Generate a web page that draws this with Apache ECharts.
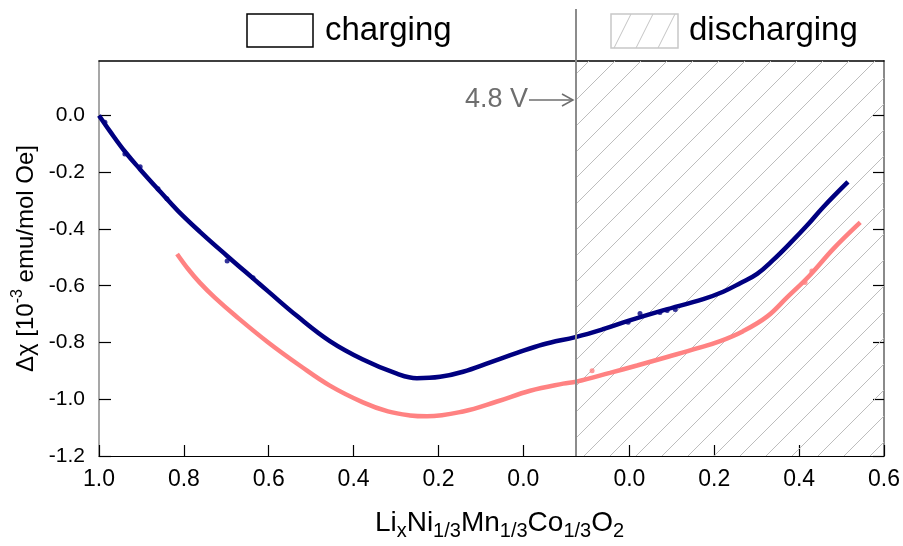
<!DOCTYPE html>
<html><head><meta charset="utf-8">
<script src="https://cdn.jsdelivr.net/npm/echarts@6/dist/echarts.min.js"></script>
<style>html,body{margin:0;padding:0;background:#fff}#c{width:903px;height:546px}</style>
</head><body><div id="c"></div>
<script>
// ---------------- data (x = Li content, y = delta chi in 1e-3 emu/mol Oe) ----------------
const navyChargeX = [1.000, 0.974, 0.939, 0.903, 0.856, 0.814, 0.762, 0.698, 0.637, 0.602, 0.533, 0.456, 0.378, 0.298, 0.251, 0.196, 0.142, 0.078, 0.015, -0.046, -0.125];
const navyChargeY = [0.000, -0.056, -0.127, -0.190, -0.268, -0.336, -0.410, -0.495, -0.574, -0.619, -0.707, -0.795, -0.860, -0.910, -0.926, -0.921, -0.903, -0.870, -0.837, -0.807, -0.780];
const navyDischargeX = [-0.125, -0.062, -0.003, 0.079, 0.174, 0.221, 0.261, 0.301, 0.339, 0.379, 0.419, 0.456, 0.515];
const navyDischargeY = [-0.780, -0.753, -0.724, -0.687, -0.647, -0.621, -0.591, -0.558, -0.509, -0.450, -0.387, -0.324, -0.234];

const pinkChargeX = [0.816, 0.790, 0.762, 0.727, 0.679, 0.602, 0.526, 0.456, 0.378, 0.319, 0.267, 0.227, 0.142, 0.062, -0.016, -0.094, -0.125];
const pinkChargeY = [-0.488, -0.541, -0.590, -0.642, -0.705, -0.799, -0.882, -0.952, -1.011, -1.043, -1.057, -1.060, -1.043, -1.008, -0.970, -0.945, -0.938];
const pinkDischargeX = [-0.125, -0.046, 0.018, 0.089, 0.159, 0.214, 0.268, 0.325, 0.371, 0.426, 0.480, 0.544];
const pinkDischargeY = [-0.938, -0.907, -0.881, -0.851, -0.821, -0.795, -0.760, -0.708, -0.642, -0.562, -0.471, -0.377];

// scattered raw points off the smooth curves
const navyDotsChargeX = [0.986, 0.939, 0.903, 0.861, 0.840, 0.698, 0.637];
const navyDotsChargeY = [-0.024, -0.136, -0.181, -0.258, -0.293, -0.513, -0.572];
const navyDotsDischargeX = [-0.003, 0.025, 0.072, 0.089, 0.108];
const navyDotsDischargeY = [-0.729, -0.698, -0.694, -0.687, -0.684];
const pinkDotsDischargeX = [-0.088, 0.414, 0.430];
const pinkDotsDischargeY = [-0.900, -0.589, -0.548];

const chargeTickLabels = [1.0, 0.8, 0.6, 0.4, 0.2, 0.0];
const dischargeTickLabels = [0.0, 0.2, 0.4, 0.6];
const yTicks = [-1.2, -1.0, -0.8, -0.6, -0.4, -0.2, 0.0];
const switchX = -0.125;   // Li content at the 4.8 V turning point

// ---------------- broken axis mapping ----------------
const DIS_OFFSET = 1.25;
const T_MAX = DIS_OFFSET + dischargeTickLabels[dischargeTickLabels.length - 1];
const SWITCH_T = 1 - switchX;
const tCharge = x => 1 - x;
const tDis = x => DIS_OFFSET + x;

function build(cx, cy, dx, dy) {
  const out = cx.map((x, i) => [tCharge(x), cy[i]]);
  dx.forEach((x, i) => {
    const t = tDis(x);
    if (Math.abs(t - out[out.length - 1][0]) < 1e-6) return;
    out.push([t, dy[i]]);
  });
  return out;
}
const navyData = build(navyChargeX, navyChargeY, navyDischargeX, navyDischargeY);
const pinkData = build(pinkChargeX, pinkChargeY, pinkDischargeX, pinkDischargeY);
const navyDots = navyDotsChargeX.map((x, i) => [tCharge(x), navyDotsChargeY[i]])
  .concat(navyDotsDischargeX.map((x, i) => [tDis(x), navyDotsDischargeY[i]]));
const pinkDots = pinkDotsDischargeX.map((x, i) => [tDis(x), pinkDotsDischargeY[i]]);
const xTickValues = chargeTickLabels.map(tCharge).concat(dischargeTickLabels.map(tDis));

function fmtX(v) {
  const x = v <= SWITCH_T ? 1 - v : v - DIS_OFFSET;
  return Math.abs(x) < 1e-9 ? '0.0' : x.toFixed(1);
}

function hatch(w, h, color) {
  const c = document.createElement('canvas');
  c.width = w; c.height = h;
  const g = c.getContext('2d');
  g.strokeStyle = color; g.lineWidth = 1;
  g.beginPath();
  g.moveTo(-w, h); g.lineTo(0, 0);
  g.moveTo(0, h); g.lineTo(w, 0);
  g.moveTo(w, h); g.lineTo(2 * w, 0);
  g.stroke();
  return c;
}
const hatchBig = hatch(26, 26, '#bdbdbd');
const hatchSmall = hatch(22, 44, '#c4c4c4');

const FONT = 'Liberation Sans, Arial, sans-serif';
const chart = echarts.init(document.getElementById('c'), null, { renderer: 'canvas' });

chart.setOption({
  animation: false,
  backgroundColor: '#fff',
  textStyle: { fontFamily: FONT },
  grid: { left: 99, right: 19, top: 61, bottom: 86, containLabel: false },
  xAxis: [{
    type: 'value', min: 0, max: T_MAX, position: 'bottom',
    axisLine: { show: true, onZero: false, lineStyle: { color: '#000', width: 1.2 } },
    axisTick: { show: true, inside: true, length: 11, customValues: xTickValues, lineStyle: { color: '#000', width: 1.2 } },
    axisLabel: { customValues: xTickValues, formatter: fmtX, fontSize: 23, color: '#000', margin: 12, fontFamily: FONT },
    splitLine: { show: false },
    name: '{a|Li}{s|x}{a|Ni}{s|1/3}{a|Mn}{s|1/3}{a|Co}{s|1/3}{a|O}{s|2}',
    nameLocation: 'middle', nameGap: 49,
    nameTextStyle: {
      padding: [0, 0, 0, 16],
      rich: {
        a: { fontSize: 28, color: '#000', fontFamily: FONT, lineHeight: 36, verticalAlign: 'middle' },
        s: { fontSize: 20, color: '#000', fontFamily: FONT, verticalAlign: 'bottom' }
      }
    }
  }, {
    type: 'value', min: 0, max: T_MAX, position: 'top',
    axisLine: { show: true, onZero: false, lineStyle: { color: '#000', width: 1.5 } },
    axisTick: { show: false }, axisLabel: { show: false }, splitLine: { show: false }
  }],
  yAxis: [{
    type: 'value', min: -1.2, max: 0.192, position: 'left',
    axisLine: { show: true, onZero: false, lineStyle: { color: '#8a8a8a', width: 1.5 } },
    axisTick: { show: true, inside: true, length: 12, customValues: yTicks, lineStyle: { color: '#000', width: 1.2 } },
    axisLabel: { customValues: yTicks, formatter: v => v.toFixed(1), fontSize: 21, color: '#000', margin: 14, fontFamily: FONT },
    splitLine: { show: false },
    name: '{a|Δχ [10}{p|-3}{a| emu/mol Oe]}',
    nameLocation: 'middle', nameRotate: 90, nameGap: 55,
    nameTextStyle: {
      rich: {
        a: { fontSize: 24, color: '#000', fontFamily: FONT, lineHeight: 32, verticalAlign: 'middle' },
        p: { fontSize: 16, color: '#000', fontFamily: FONT, verticalAlign: 'top' }
      }
    }
  }, {
    type: 'value', min: -1.2, max: 0.192, position: 'right',
    axisLine: { show: true, onZero: false, lineStyle: { color: '#8a8a8a', width: 2 } },
    axisTick: { show: true, inside: true, length: 11, customValues: yTicks, lineStyle: { color: '#000', width: 1.2 } },
    axisLabel: { show: false }, splitLine: { show: false }
  }],
  series: [{
    type: 'line', data: [], z: 1, silent: true,
    markArea: {
      silent: true,
      itemStyle: { color: { image: hatchBig, repeat: 'repeat' }, opacity: 1 },
      data: [[{ xAxis: SWITCH_T }, { xAxis: T_MAX }]]
    }
  }, {
    name: 'pink', type: 'line', data: pinkData, z: 3, smooth: 0.4,
    symbol: 'none', lineStyle: { color: '#ff8282', width: 4.5 }
  }, {
    name: 'navy', type: 'line', data: navyData, z: 4, smooth: 0.4,
    symbol: 'none', lineStyle: { color: '#000080', width: 4.5 }
  }, {
    type: 'scatter', data: navyDots, z: 5, symbolSize: 5, itemStyle: { color: '#000080' }
  }, {
    type: 'scatter', data: pinkDots, z: 5, symbolSize: 5, itemStyle: { color: '#ff8282' }
  }]
});

const lx = Math.round(chart.convertToPixel({ xAxisIndex: 0 }, SWITCH_T));
const by = chart.convertToPixel({ yAxisIndex: 0 }, -1.2);
chart.setOption({
  graphic: [
    { type: 'line', z: 10, shape: { x1: lx, y1: 9, x2: lx, y2: by }, style: { stroke: '#8c8c8c', lineWidth: 2 } },
    { type: 'text', z: 10, style: { text: '4.8 V', x: lx - 48, y: 100, align: 'right', verticalAlign: 'middle', font: '27px ' + FONT, fill: '#6e6e6e' } },
    { type: 'line', z: 10, shape: { x1: lx - 47, y1: 100, x2: lx - 3, y2: 100 }, style: { stroke: '#6e6e6e', lineWidth: 1.5 } },
    { type: 'polyline', z: 10, shape: { points: [[lx - 14, 94], [lx - 3, 100], [lx - 14, 106]] }, style: { stroke: '#6e6e6e', lineWidth: 1.5, fill: null } },
    { type: 'rect', z: 10, shape: { x: 247, y: 14, width: 66, height: 33 }, style: { fill: '#fff', stroke: '#000', lineWidth: 1.5 } },
    { type: 'text', z: 10, style: { text: 'charging', x: 325, y: 31, verticalAlign: 'middle', font: '33px ' + FONT, fill: '#000' } },
    { type: 'rect', z: 10, shape: { x: 611, y: 14, width: 67, height: 34 }, style: { fill: { image: hatchSmall, repeat: 'repeat' }, stroke: '#c8c8c8', lineWidth: 1.5 } },
    { type: 'text', z: 10, style: { text: 'discharging', x: 689, y: 31, verticalAlign: 'middle', font: '33px ' + FONT, fill: '#000' } }
  ]
});
</script>
</body></html>
